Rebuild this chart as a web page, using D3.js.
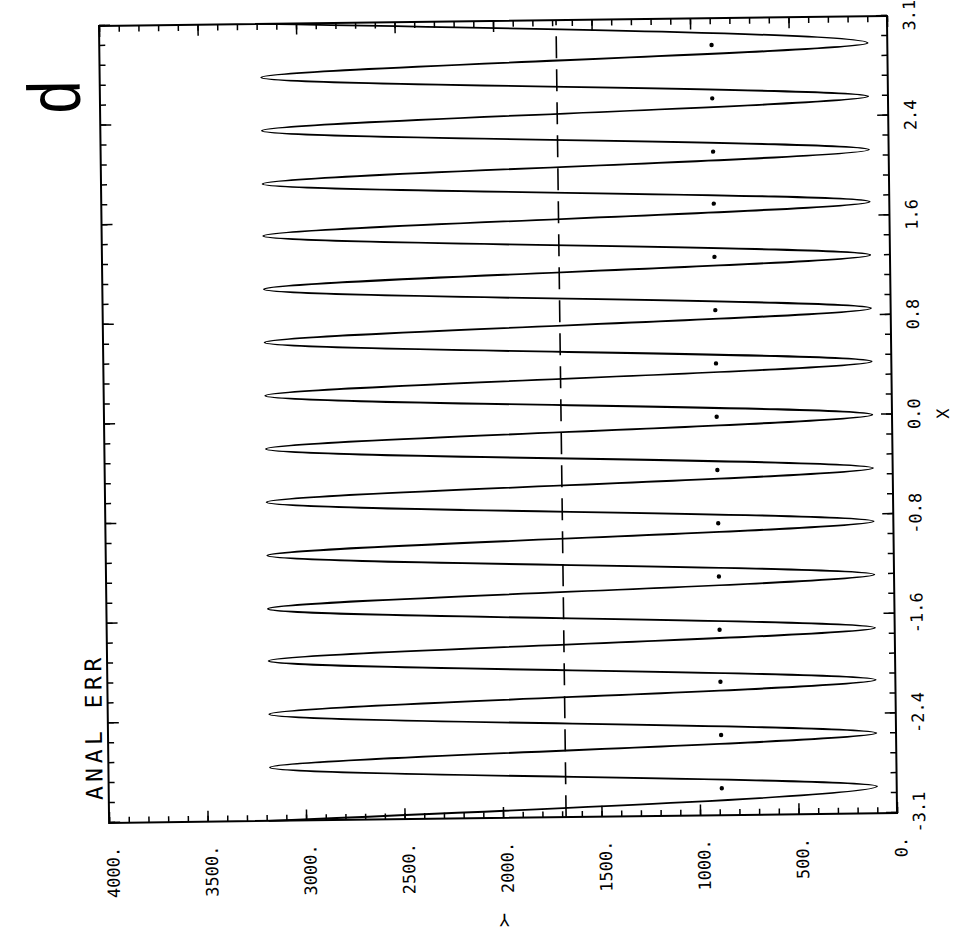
<!DOCTYPE html>
<html>
<head>
<meta charset="utf-8">
<script src="https://cdn.jsdelivr.net/npm/d3@7"></script>
<style>
  body { margin: 0; background: #fff; }
</style>
</head>
<body>
<svg id="chart" width="974" height="934"></svg>
<script>
// Data - turning points of the curve (x in radians, y value)
const extremaX = [-3.1416, -2.93, -2.72, -2.51, -2.30, -2.09, -1.88, -1.68, -1.47, -1.26, -1.05,
    -0.84, -0.63, -0.42, -0.21, 0.00, 0.21, 0.42, 0.63, 0.84, 1.05, 1.26, 1.47, 1.68, 1.88,
    2.09, 2.30, 2.51, 2.72, 2.93, 3.1416];
const extremaY = [3190, 100, 3180, 100, 3180, 100, 3180, 100, 3180, 100, 3180,
    100, 3180, 100, 3180, 100, 3180, 100, 3180, 100, 3180, 100, 3180, 100, 3180,
    100, 3180, 100, 3180, 100, 3185];

// marked points
const markX = [-2.93, -2.51, -2.09, -1.68, -1.26, -0.84, -0.42, 0.00, 0.42, 0.84, 1.26, 1.68, 2.09, 2.51, 2.93];
const markY = [888, 888, 888, 889, 889, 889, 890, 890, 890, 890, 891, 891, 891, 892, 892];

// reference level (dash line)
const refY = 1680;

// ticks
const xMajorTicks = [-Math.PI, -3 * Math.PI / 4, -Math.PI / 2, -Math.PI / 4, 0, Math.PI / 4, Math.PI / 2, 3 * Math.PI / 4, Math.PI];
const xMinorTicks = d3.range(-20, 21).map(k => k * Math.PI / 20);
const yMajorTicks = [0, 500, 1000, 1500, 2000, 2500, 3000, 3500, 4000];
const yMinorTicks = d3.range(0, 4001, 100);

const title = "ANAL ERR";
const xTitle = "X";
const yTitle = "Y";
const panelMark = "d";

// Dimensions (chart is drawn upright, then turned a quarter turn)
const W = 797;   // length of x axis
const H = 788;   // length of y axis
const FONT = "'DejaVu Sans Mono', monospace";

const svg = d3.select("#chart");
svg.append("rect").attr("width", 974).attr("height", 934).attr("fill", "#fff");

// the scan is slightly skewed
const page = svg.append("g").attr("transform", "translate(99,26) rotate(-0.727)");
const g = page.append("g").attr("transform", `translate(0,${W}) rotate(-90)`);

const x = d3.scaleLinear([-Math.PI, Math.PI], [0, W]);
const y = d3.scaleLinear([0, 4000], [H, 0]);

function styleAxis(sel) {
    sel.select(".domain").remove();
    sel.selectAll(".tick line").attr("stroke", "#000").attr("stroke-width", 1.5);
    sel.selectAll(".tick text")
        .attr("fill", "#000")
        .attr("font-family", FONT)
        .attr("font-size", 17);
}

// x axis (bottom, with labels)
g.append("g")
    .attr("transform", `translate(0,${H})`)
    .call(d3.axisBottom(x).tickValues(xMinorTicks).tickSizeInner(-6).tickSizeOuter(0).tickFormat(""))
    .call(styleAxis);
g.append("g")
    .attr("transform", `translate(0,${H})`)
    .call(d3.axisBottom(x).tickValues(xMajorTicks).tickSizeInner(-11).tickSizeOuter(0)
        .tickPadding(16).tickFormat(d => d.toFixed(1)))
    .call(styleAxis);

// x axis mirror (top)
g.append("g")
    .call(d3.axisTop(x).tickValues(xMinorTicks).tickSizeInner(-6).tickSizeOuter(0).tickFormat(""))
    .call(styleAxis);
g.append("g")
    .call(d3.axisTop(x).tickValues(xMajorTicks).tickSizeInner(-11).tickSizeOuter(0).tickFormat(""))
    .call(styleAxis);

// y axis (left, with labels)
g.append("g")
    .call(d3.axisLeft(y).tickValues(yMinorTicks).tickSizeInner(-6).tickSizeOuter(0).tickFormat(""))
    .call(styleAxis);
g.append("g")
    .call(d3.axisLeft(y).tickValues(yMajorTicks).tickSizeInner(-11).tickSizeOuter(0)
        .tickPadding(24).tickFormat(d => d + "."))
    .call(styleAxis)
    .call(a => a.selectAll(".tick text").attr("dy", "0.55em"));

// y axis mirror (right)
g.append("g")
    .attr("transform", `translate(${W},0)`)
    .call(d3.axisRight(y).tickValues(yMinorTicks).tickSizeInner(-6).tickSizeOuter(0).tickFormat(""))
    .call(styleAxis);
g.append("g")
    .attr("transform", `translate(${W},0)`)
    .call(d3.axisRight(y).tickValues(yMajorTicks).tickSizeInner(-11).tickSizeOuter(0).tickFormat(""))
    .call(styleAxis);

// frame
g.append("rect")
    .attr("width", W)
    .attr("height", H)
    .attr("fill", "none")
    .attr("stroke", "#000")
    .attr("stroke-width", 2);

// curve
const curveData = extremaX.map((d, i) => [d, extremaY[i]]);
g.append("path")
    .datum(curveData)
    .attr("fill", "none")
    .attr("stroke", "#000")
    .attr("stroke-width", 1.8)
    .attr("d", d3.line().x(d => x(d[0])).y(d => y(d[1])).curve(d3.curveMonotoneX));

// reference line
g.append("line")
    .attr("x1", x(-Math.PI))
    .attr("x2", x(Math.PI))
    .attr("y1", y(refY))
    .attr("y2", y(refY))
    .attr("stroke", "#000")
    .attr("stroke-width", 1.6)
    .attr("stroke-dasharray", "22,11");

// points
g.selectAll(".mark")
    .data(markX.map((d, i) => [d, markY[i]]))
    .join("circle")
    .attr("class", "mark")
    .attr("cx", d => x(d[0]))
    .attr("cy", d => y(d[1]))
    .attr("r", 2.2)
    .attr("fill", "#000");

// labels
g.append("text")
    .attr("x", 23)
    .attr("y", -6)
    .attr("font-family", FONT)
    .attr("font-size", 23)
    .attr("letter-spacing", 4.5)
    .attr("fill", "#000")
    .text(title);

g.append("text")
    .attr("x", x(0))
    .attr("y", H + 57)
    .attr("text-anchor", "middle")
    .attr("font-family", FONT)
    .attr("font-size", 17)
    .attr("fill", "#000")
    .text(xTitle);

g.append("text")
    .attr("transform", `translate(-96,${y(2000)}) rotate(-90)`)
    .attr("text-anchor", "middle")
    .attr("font-family", FONT)
    .attr("font-size", 17)
    .attr("fill", "#000")
    .text(yTitle);

// handwritten panel letter
g.append("text")
    .attr("transform", "translate(743,-20) scale(0.8,1)")
    .attr("text-anchor", "end")
    .attr("font-family", "'Liberation Sans', sans-serif")
    .attr("font-size", 74)
    .attr("fill", "#000")
    .text(panelMark);
</script>
</body>
</html>
